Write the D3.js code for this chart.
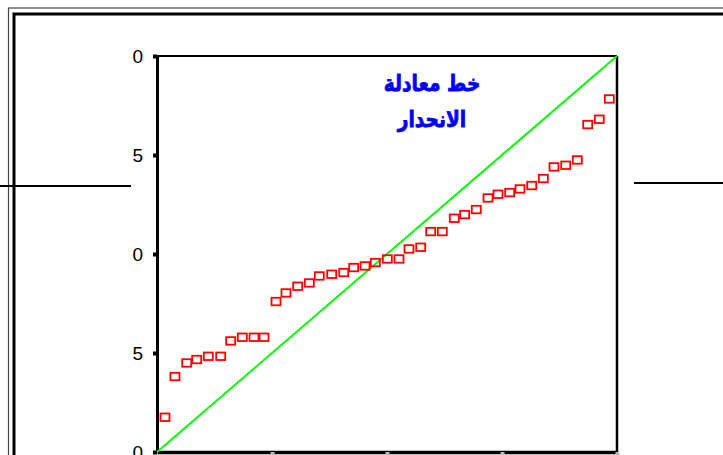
<!doctype html>
<html>
	<head>
		<meta charset="utf-8">
		<title>P-P plot</title>
		<script src="https://d3js.org/d3.v7.min.js"></script>
		<style>
		html, body { margin: 0; padding: 0; background: #fff; }
		svg { display: block; }
		.tick text { font-family: "Liberation Sans", Arial, sans-serif; font-size: 19px; fill: #000; }
		</style>
	</head>
	<body>
		<svg width="723" height="455"></svg>
		<script>
		// expected cumulative probability (x) and observed cumulative probability (y)
		var expected = [0.0174, 0.0391, 0.0646, 0.0863, 0.1115, 0.1385, 0.1602, 0.1854, 0.2109, 0.2326,
			0.2587, 0.2804, 0.3059, 0.3311, 0.3528, 0.3798, 0.4059, 0.4276, 0.4522, 0.4746,
			0.5007, 0.5261, 0.5478, 0.5733, 0.5950, 0.6202, 0.6463, 0.6689, 0.6941, 0.7196,
			0.7413, 0.7667, 0.7891, 0.8146, 0.8398, 0.8630, 0.8885, 0.9137, 0.9363, 0.9615, 0.9833];
		var observed = [0.0884, 0.1912, 0.2255, 0.2341, 0.2424, 0.2424, 0.2811, 0.2904, 0.2904, 0.2904,
			0.3806, 0.4023, 0.4192, 0.4275, 0.4452, 0.4495, 0.4538, 0.4664, 0.4705, 0.4790,
			0.4881, 0.4881, 0.5134, 0.5177, 0.5573, 0.5573, 0.5909, 0.6002, 0.6129, 0.6422,
			0.6515, 0.6558, 0.6649, 0.6735, 0.6912, 0.7205, 0.7247, 0.7381, 0.8275, 0.8409, 0.8922];
		var yTicks = [0, 0.25, 0.5, 0.75, 1];
		var yTickLabels = ["0", "5", "0", "5", "0"]; // left part of the labels is cut off in the original
		var xTicks = [0.25, 0.5, 0.75, 1];
		var titleLines = ["خط معادلة", "الانحدار"];

		var svg = d3.select("svg");
		var plotLeft = 157, plotRight = 617, plotTop = 56, plotBottom = 452;

		var x = d3.scaleLinear().domain([0, 1]).range([plotLeft, plotRight]);
		var y = d3.scaleLinear().domain([0, 1]).range([plotBottom, plotTop]);

		// double frame round the whole picture
		svg.append("rect").attr("x", 8.5).attr("y", 8).attr("width", 760).attr("height", 500)
			.attr("fill", "none").attr("stroke", "#444").attr("stroke-width", 1.2);
		svg.append("rect").attr("x", 14).attr("y", 14).attr("width", 760).attr("height", 500)
			.attr("fill", "none").attr("stroke", "#000").attr("stroke-width", 3);

		// stray horizontal lines either side of the plot
		svg.append("line").attr("x1", 0).attr("x2", 131).attr("y1", 186).attr("y2", 186)
			.attr("stroke", "#000").attr("stroke-width", 2);
		svg.append("line").attr("x1", 634).attr("x2", 723).attr("y1", 183).attr("y2", 183)
			.attr("stroke", "#000").attr("stroke-width", 2);

		// plot box: top and right
		svg.append("line").attr("x1", plotLeft).attr("x2", plotRight).attr("y1", plotTop).attr("y2", plotTop)
			.attr("stroke", "#000").attr("stroke-width", 2);
		svg.append("line").attr("x1", plotRight).attr("x2", plotRight).attr("y1", plotTop).attr("y2", plotBottom)
			.attr("stroke", "#000").attr("stroke-width", 2.5);

		var yAxis = svg.append("g")
			.attr("transform", "translate(" + plotLeft + ",0)")
			.call(d3.axisLeft(y).tickValues(yTicks).tickSize(4).tickPadding(10)
				.tickSizeOuter(0)
				.tickFormat(function(d, i) { return yTickLabels[i]; }));
		yAxis.select(".domain").attr("stroke", "#000").attr("stroke-width", 3);
		yAxis.selectAll(".tick line").attr("stroke", "#000").attr("stroke-width", 4);

		var xAxis = svg.append("g")
			.attr("transform", "translate(0," + plotBottom + ")")
			.call(d3.axisBottom(x).tickValues(xTicks).tickSize(5).tickSizeOuter(0).tickFormat(""));
		xAxis.select(".domain").attr("stroke", "#000").attr("stroke-width", 3.5);
		xAxis.selectAll(".tick line").attr("stroke", "#bbb").attr("stroke-width", 4);

		// diagonal reference line
		svg.append("line")
			.attr("x1", x(0)).attr("y1", y(0)).attr("x2", x(1)).attr("y2", y(1))
			.attr("stroke", "#00ff00").attr("stroke-width", 2);

		// points
		svg.append("g").selectAll("rect")
			.data(expected)
			.enter().append("rect")
			.attr("x", function(d) { return x(d) - 4.5; })
			.attr("y", function(d, i) { return y(observed[i]) - 3.5; })
			.attr("width", 9).attr("height", 7.5)
			.attr("fill", "none").attr("stroke", "#ff0000").attr("stroke-width", 1.8);

		// title (slightly condensed and thickened to look like the bold Arial original)
		svg.append("g").selectAll("text")
			.data(titleLines)
			.enter().append("text")
			.attr("transform", function(d, i) { return "translate(432," + (91 + i * 36) + ") scale(0.93,1.12)"; })
			.attr("text-anchor", "middle")
			.attr("direction", "rtl")
			.attr("font-family", "DejaVu Sans, sans-serif")
			.attr("font-weight", "bold")
			.attr("font-size", 20)
			.attr("fill", "#0000ff")
			.attr("stroke", "#0000ff")
			.attr("stroke-width", 0.7)
			.text(function(d) { return d; });
		</script>
	</body>
</html>
